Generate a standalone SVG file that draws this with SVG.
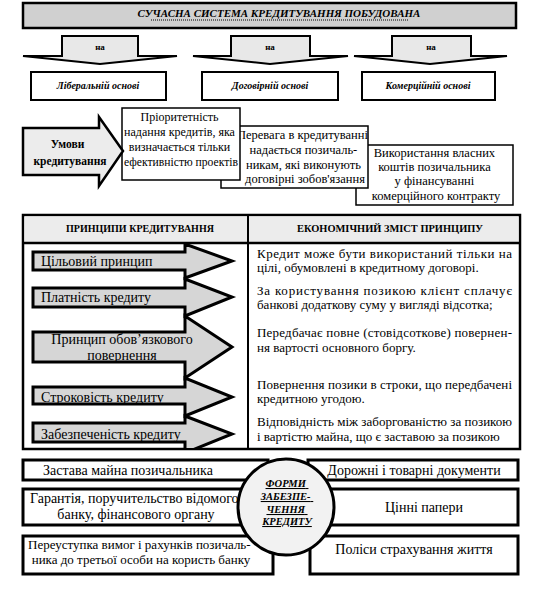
<svg xmlns="http://www.w3.org/2000/svg" width="553" height="590" viewBox="0 0 553 590">
<defs>
<style>
.t{font-family:"Liberation Serif","Times New Roman",serif;fill:#000}
.box{fill:#fff;stroke:#000;stroke-width:1.5}
.tb{fill:#fff;stroke:#000;stroke-width:3}
.pa{fill:#d6d6d6;stroke:#000;stroke-width:3;stroke-linejoin:miter}
.na{fill:#e8e8e8;stroke:#000;stroke-width:2}
</style>
<clipPath id="tclip"><rect x="24" y="243" width="224" height="205"/></clipPath>
</defs>
<rect width="553" height="590" fill="#fff"/>

<g id="banner">
<rect x="23" y="3" width="493" height="25" fill="#d0d0d0" stroke="#000" stroke-width="2.5"/>
<text class="t" x="279" y="17" text-anchor="middle" font-size="11" font-weight="bold" font-style="italic">СУЧАСНА СИСТЕМА КРЕДИТУВАННЯ ПОБУДОВАНА</text>
<line x1="151" y1="20" x2="408" y2="20" stroke="#000" stroke-width="1" stroke-dasharray="1,1"/>
</g>

<g id="connectors">
<polygon class="na" points="62,36 138,36 138,56 177,56 100,64 23,56 62,56"/>
<polygon class="na" points="231,36 310,36 310,56 348,56 270,64 193,56 231,56"/>
<polygon class="na" points="392,36 471,36 471,56 507,56 430,64 354,56 392,56"/>
<text class="t" x="100" y="50" text-anchor="middle" font-size="9" font-weight="bold">на</text>
<text class="t" x="270" y="50" text-anchor="middle" font-size="9" font-weight="bold">на</text>
<text class="t" x="431" y="50" text-anchor="middle" font-size="9" font-weight="bold">на</text>
</g>

<g id="basis1">
<rect x="31" y="72" width="135" height="28" fill="#fff" stroke="#000" stroke-width="2"/>
<text class="t" x="98" y="89" text-anchor="middle" font-size="10" font-style="italic" font-weight="bold">Ліберальній основі</text>
</g>
<g id="basis2">
<rect x="202" y="72" width="136" height="28" fill="#fff" stroke="#000" stroke-width="2"/>
<text class="t" x="270" y="89" text-anchor="middle" font-size="10" font-style="italic" font-weight="bold">Договірній основі</text>
</g>
<g id="basis3">
<rect x="362" y="72" width="133" height="28" fill="#fff" stroke="#000" stroke-width="2"/>
<text class="t" x="428" y="89" text-anchor="middle" font-size="10" font-style="italic" font-weight="bold">Комерційній основі</text>
</g>

<g id="cond3">
<rect class="box" x="356" y="145" width="157" height="60"/>
<text class="t" font-size="12.5" text-anchor="middle">
<tspan x="436" y="157">Використання власних</tspan>
<tspan x="436" y="171">коштів позичальника</tspan>
<tspan x="436" y="185">у фінансуванні</tspan>
<tspan x="436" y="200">комерційного контракту</tspan>
</text>
</g>
<g id="cond2">
<rect class="box" x="221" y="126" width="147" height="62"/>
<text class="t" font-size="12.5" text-anchor="middle">
<tspan x="304" y="139">Перевага в кредитуванні</tspan>
<tspan x="305" y="154">надається позичаль-</tspan>
<tspan x="305" y="169">никам, які виконують</tspan>
<tspan x="305" y="183">договірні зобов'язання</tspan>
</text>
</g>
<g id="cond1">
<rect class="box" x="122" y="108" width="118" height="72"/>
<text class="t" font-size="12" text-anchor="middle">
<tspan x="181" y="121">Пріоритетність</tspan>
<tspan x="181" y="136">надання кредитів, яка</tspan>
<tspan x="181" y="151">визначається тільки</tspan>
<tspan x="181" y="166" textLength="114" lengthAdjust="spacingAndGlyphs">ефективністю проектів</tspan>
</text>
</g>

<g id="conditions">
<polygon points="23,128 99,128 99,117 123,151 99,186 99,175 23,175" fill="#ececec" stroke="#000" stroke-width="2.5"/>
<text class="t" font-size="11.5" font-weight="bold" text-anchor="middle">
<tspan x="69" y="148">Умови</tspan>
<tspan x="70" y="165">кредитування</tspan>
</text>
</g>

<g id="table">
<rect x="23" y="215" width="497" height="234" fill="#fff" stroke="#000" stroke-width="2.5"/>
<rect x="24.5" y="216.5" width="494" height="26" fill="#ececec"/>
<line x1="23" y1="243" x2="520" y2="243" stroke="#000" stroke-width="2.5"/>
<line x1="248" y1="215" x2="248" y2="449" stroke="#000" stroke-width="2"/>
<text class="t" x="140" y="232" text-anchor="middle" font-size="10" font-weight="bold">ПРИНЦИПИ КРЕДИТУВАННЯ</text>
<text class="t" x="390" y="232" text-anchor="middle" font-size="10" font-weight="bold" textLength="186" lengthAdjust="spacingAndGlyphs">ЕКОНОМІЧНИЙ ЗМІСТ ПРИНЦИПУ</text>
</g>

<g id="principles" clip-path="url(#tclip)">
<polygon class="pa" points="33,252 185,252 185,244 232,261 185,278 185,270 33,270"/>
<polygon class="pa" points="33,288 185,288 185,279 232,297 185,316 185,307 33,307"/>
<polygon class="pa" points="33,332 185,332 185,316 232,347 185,378 185,362 33,362"/>
<polygon class="pa" points="33,387 185,387 185,378 232,397 185,416 185,404 33,404"/>
<polygon class="pa" points="33,423 185,423 185,416 232,434 185,453 185,442 33,442"/>
</g>
<g id="principle-labels">
<text class="t" x="41" y="266" font-size="14">Цільовий принцип</text>
<text class="t" x="41" y="302" font-size="14">Платність кредиту</text>
<text class="t" x="122" y="344" font-size="14" text-anchor="middle">Принцип обов’язкового</text>
<text class="t" x="122" y="360" font-size="14" text-anchor="middle">повернення</text>
<text class="t" x="41" y="402" font-size="14">Строковість кредиту</text>
<text class="t" x="41" y="439" font-size="14">Забезпеченість кредиту</text>
</g>

<g id="meanings">
<text class="t" font-size="13">
<tspan x="257" y="258" textLength="255" lengthAdjust="spacing">Кредит може бути використаний тільки на</tspan>
<tspan x="257" y="272">цілі, обумовлені в кредитному договорі.</tspan>
<tspan x="257" y="295" textLength="255" lengthAdjust="spacing">За користування позикою клієнт сплачує</tspan>
<tspan x="257" y="309">банкові додаткову суму у вигляді відсотка;</tspan>
<tspan x="257" y="337" textLength="255" lengthAdjust="spacing">Передбачає повне (стовідсоткове) повернен-</tspan>
<tspan x="257" y="352">ня вартості основного боргу.</tspan>
<tspan x="257" y="389" textLength="255" lengthAdjust="spacing">Повернення позики в строки, що передбачені</tspan>
<tspan x="257" y="403">кредитною угодою.</tspan>
<tspan x="257" y="426" textLength="255" lengthAdjust="spacing">Відповідність між заборгованістю за позикою</tspan>
<tspan x="257" y="441">і вартістю майна, що є заставою за позикою</tspan>
</text>
</g>

<g id="form1">
<rect class="tb" x="23" y="460" width="245" height="20"/>
<text class="t" x="128" y="475" text-anchor="middle" font-size="14">Застава майна позичальника</text>
</g>
<g id="form2">
<rect class="tb" x="23" y="489" width="249" height="36"/>
<text class="t" font-size="14" text-anchor="middle">
<tspan x="136" y="503">Гарантія, поручительство відомого</tspan>
<tspan x="136" y="519">банку, фінансового органу</tspan>
</text>
</g>
<g id="form3">
<rect class="tb" x="23" y="536" width="250" height="38"/>
<text class="t" font-size="13" text-anchor="middle">
<tspan x="141" y="549">Переуступка вимог і рахунків позичаль-</tspan>
<tspan x="141" y="564">ника до третьої особи на користь банку</tspan>
</text>
</g>
<g id="form4">
<rect class="tb" x="308" y="460" width="210" height="20"/>
<text class="t" x="414" y="475" text-anchor="middle" font-size="14">Дорожні і товарні документи</text>
</g>
<g id="form5">
<rect class="tb" x="326" y="489" width="192" height="36"/>
<text class="t" x="424" y="512" text-anchor="middle" font-size="14">Цінні папери</text>
</g>
<g id="form6">
<rect class="tb" x="310" y="536" width="208" height="38"/>
<text class="t" x="414" y="554" text-anchor="middle" font-size="14">Поліси страхування життя</text>
</g>

<g id="forms-center">
<circle cx="286" cy="507" r="48" fill="#f2f2f2" stroke="#000" stroke-width="3"/>
<text class="t" font-size="10.5" font-weight="bold" font-style="italic" text-anchor="middle" text-decoration="underline">
<tspan x="287" y="487">ФОРМИ</tspan>
<tspan x="287" y="500">ЗАБЕЗПЕ-</tspan>
<tspan x="287" y="513">ЧЕННЯ</tspan>
<tspan x="287" y="525">КРЕДИТУ</tspan>
</text>
</g>
</svg>
